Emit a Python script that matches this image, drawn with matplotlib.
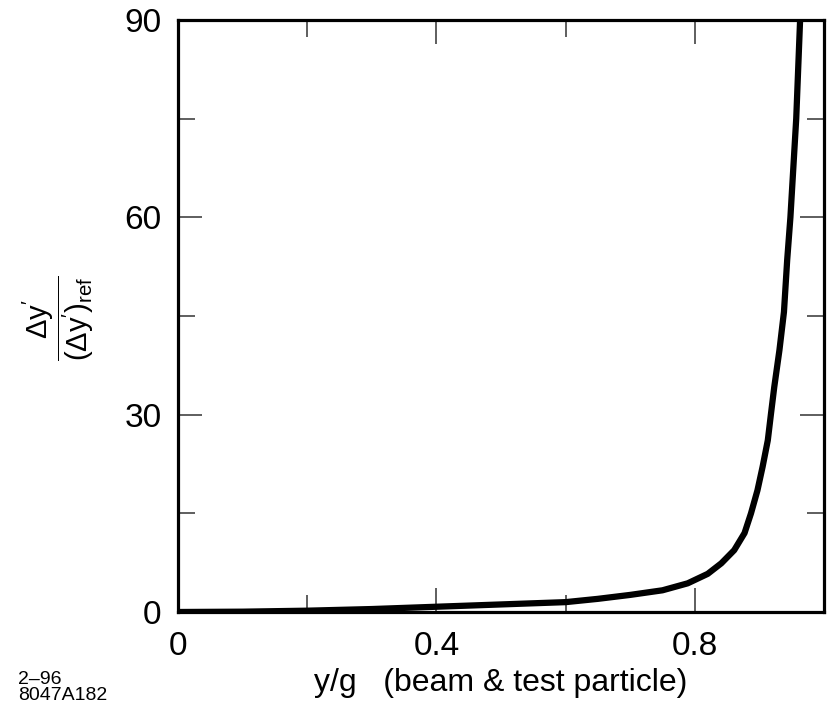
import matplotlib
matplotlib.use("Agg")
import matplotlib.pyplot as plt
from matplotlib.ticker import FixedLocator

plt.rcParams['font.family'] = ['Liberation Sans', 'DejaVu Sans']
plt.rcParams['mathtext.fontset'] = 'custom'
plt.rcParams['mathtext.rm'] = 'Liberation Sans'
plt.rcParams['mathtext.it'] = 'Liberation Sans'
plt.rcParams['mathtext.bf'] = 'Liberation Sans'

# data
y_over_g = [0.0, 0.1, 0.2, 0.3, 0.4, 0.5, 0.6, 0.65, 0.7, 0.75, 0.789, 0.82,
            0.841, 0.861, 0.877, 0.887, 0.897, 0.905, 0.913, 0.918, 0.923,
            0.931, 0.938, 0.943, 0.948, 0.957, 0.963]
kick_ratio = [0.0, 0.05, 0.2, 0.45, 0.8, 1.15, 1.5, 2.0, 2.6, 3.3, 4.36, 5.8,
              7.4, 9.4, 12.0, 15.0, 18.5, 22.1, 26.1, 30.2, 34.2,
              39.8, 45.6, 53.5, 60.0, 75.0, 90.0]

x_major = [0, 0.4, 0.8]
x_minor = [0.2, 0.6]
x_labels = ["0", "0.4", "0.8"]
y_major = [0, 30, 60, 90]
y_minor = [15, 45, 75]

fig = plt.figure(figsize=(8.28, 7.13), dpi=100)
ax = fig.add_axes([178/828, 1-612/713, (824-178)/828, (612-20)/713])

ax.plot(y_over_g, kick_ratio, color='black', lw=4.5, solid_joinstyle='round',
        solid_capstyle='butt')

ax.set_xlim(0, 1.0)
ax.set_ylim(0, 90)
ax.xaxis.set_major_locator(FixedLocator(x_major))
ax.xaxis.set_minor_locator(FixedLocator(x_minor))
ax.set_xticklabels(x_labels)
ax.yaxis.set_major_locator(FixedLocator(y_major))
ax.yaxis.set_minor_locator(FixedLocator(y_minor))

for s in ax.spines.values():
    s.set_linewidth(2.3)
    s.set_color('black')

ax.tick_params(which='both', direction='in', top=True, right=True,
               color='#333333', width=1.1)
ax.tick_params(which='major', length=17, labelsize=24, pad=12)
ax.tick_params(which='minor', length=12)
ax.tick_params(axis='x', which='major', pad=14)

ax.set_xlabel("y/g   (beam & test particle)", fontsize=23, labelpad=4)

fig.text(58/828, 1-318/713,
         r"$\dfrac{\Delta\mathrm{y}'}{(\Delta\mathrm{y}')_{\mathrm{ref}}}$",
         rotation=90, fontsize=21, ha='center', va='center')

fig.text(18/828, 1-704/713, "2\u201396\n8047A182", fontsize=14, ha='left', va='bottom',
         linespacing=0.95)

fig.savefig("out.png", dpi=100)
